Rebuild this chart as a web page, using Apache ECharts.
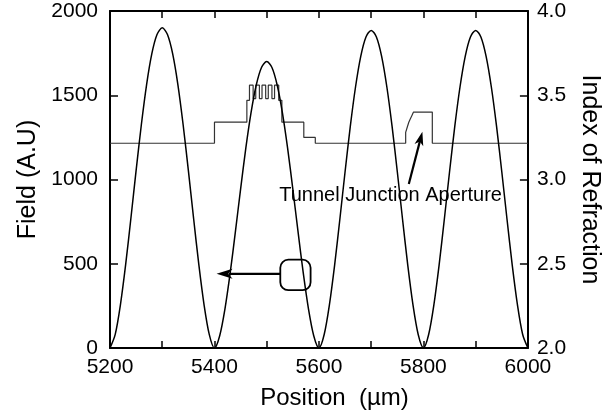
<!DOCTYPE html>
<html><head><meta charset="utf-8">
<script src="https://cdn.jsdelivr.net/npm/echarts@6/dist/echarts.min.js"></script>
<style>html,body{margin:0;padding:0;background:#fff}#c{width:610px;height:415px}</style>
</head><body><div id="c"></div>
<script>
// ---- data ----
const positions = [5200,5210,5220,5230,5240,5250,5260,5270,5280,5290,5300,5310,5320,5330,5340,5350,5360,5370,5380,5390,
  5400,5410,5420,5430,5440,5450,5460,5470,5480,5490,5500,5510,5520,5530,5540,5550,5560,5570,5580,5590,
  5600,5610,5620,5630,5640,5650,5660,5670,5680,5690,5700,5710,5720,5730,5740,5750,5760,5770,5780,5790,
  5800,5810,5820,5830,5840,5850,5860,5870,5880,5890,5900,5910,5920,5930,5940,5950,5960,5970,5980,5990,6000];
const fieldValues = [0,81,258,496,770,1054,1325,1562,1745,1860,1900,1860,1745,1562,1325,1054,770,496,258,81,
  0,73,231,444,689,943,1186,1397,1561,1665,1700,1665,1561,1397,1186,943,689,444,231,73,
  0,80,256,492,764,1046,1315,1549,1731,1846,1885,1846,1731,1549,1315,1046,764,492,256,80,
  0,80,256,492,764,1046,1315,1549,1731,1846,1885,1846,1731,1549,1315,1046,764,492,256,80,0];
const indexPositions = [5200,5400,5400,5462,5462,5467,5467,5474,5474,5479,5479,5486,5486,5491,5491,5498,5498,5503,5503,5510,
  5510,5515,5515,5523,5523,5529,5529,5571,5571,5593,5593,5766,5766,5769,5769,5772,5772,5775,5775,5778,5778,5781,5781,5817,5817,6000];
const indexValues = [3.215,3.215,3.34,3.34,3.47,3.47,3.56,3.56,3.48,3.48,3.56,3.56,3.48,3.48,3.56,3.56,3.48,3.48,3.56,3.56,
  3.48,3.48,3.56,3.56,3.47,3.47,3.34,3.34,3.25,3.25,3.215,3.215,3.28,3.28,3.31,3.31,3.34,3.34,3.36,3.36,3.38,3.38,3.40,3.40,3.215,3.215];
const xTickLabels = ['5200','5400','5600','5800','6000'];
const leftTickLabels = ['0','500','1000','1500','2000'];
const rightTickLabels = ['2.0','2.5','3.0','3.5','4.0'];
const xTitle = 'Position  (µm)';
const leftTitle = 'Field (A.U)';
const rightTitle = 'Index of Refraction';
const noteText = 'Tunnel Junction Aperture';

// annotation anchors (data units: position, field)
const boxA = [5526, 524], boxB = [5584, 343];
const fieldArrowFrom = [5526, 440], fieldArrowTo = [5404, 440];
const tjArrowFrom = [5772, 973], tjArrowTo = [5798, 1284];
const noteAnchor = [5524, 903];

const FONT = '"Liberation Sans", Arial, sans-serif';
const chart = echarts.init(document.getElementById('c'), null, {renderer: 'canvas'});

const fieldData = positions.map((p, i) => [p, fieldValues[i]]);
const indexData = indexPositions.map((p, i) => [p, indexValues[i]]);

const axisLineStyle = {show: true, lineStyle: {color: '#000', width: 2}};
const tickStyle = {show: true, inside: true, length: 7, lineStyle: {color: '#000', width: 1.5}};

chart.setOption({
  animation: false,
  backgroundColor: '#fff',
  grid: {left: 110, right: 81, top: 11, bottom: 67, containLabel: false},
  xAxis: [{
    type: 'value', position: 'bottom', min: 5200, max: 6000, interval: 100,
    axisLine: axisLineStyle, axisTick: tickStyle, splitLine: {show: false},
    axisLabel: {show: true, margin: 9, color: '#000', fontSize: 21, fontFamily: FONT,
      formatter: v => { const s = String(Math.round(v)); return xTickLabels.indexOf(s) >= 0 ? s : ''; }},
    name: xTitle, nameLocation: 'middle', nameGap: 38,
    nameTextStyle: {color: '#000', fontSize: 24, fontFamily: FONT, padding: [0, 0, 0, 31]}
  }, {
    type: 'value', position: 'top', min: 5200, max: 6000, interval: 100,
    axisLine: axisLineStyle, axisTick: tickStyle, splitLine: {show: false},
    axisLabel: {show: false}
  }],
  yAxis: [{
    type: 'value', position: 'left', min: 0, max: 2000, interval: 500,
    axisLine: axisLineStyle, axisTick: Object.assign({}, tickStyle, {length: 8}), splitLine: {show: false},
    axisLabel: {margin: 12, color: '#000', fontSize: 21, fontFamily: FONT,
      formatter: v => leftTickLabels[Math.round(v / 500)]},
    name: leftTitle, nameLocation: 'middle', nameGap: 63, nameRotate: 90,
    nameTextStyle: {color: '#000', fontSize: 25, fontFamily: FONT}
  }, {
    type: 'value', position: 'right', min: 2, max: 4, interval: 0.5,
    axisLine: axisLineStyle, axisTick: Object.assign({}, tickStyle, {length: 8}), splitLine: {show: false},
    axisLabel: {margin: 9, color: '#000', fontSize: 21, fontFamily: FONT,
      formatter: v => rightTickLabels[Math.round((v - 2) / 0.5)]},
    name: rightTitle, nameLocation: 'middle', nameGap: 46, nameRotate: -90,
    nameTextStyle: {color: '#000', fontSize: 25, fontFamily: FONT}
  }],
  series: [{
    type: 'line', xAxisIndex: 0, yAxisIndex: 0, data: fieldData, showSymbol: false,
    smooth: 0.3,
    lineStyle: {color: '#000', width: 1.5}, z: 3
  }, {
    type: 'line', xAxisIndex: 0, yAxisIndex: 1, data: indexData, showSymbol: false,
    lineStyle: {color: '#333', width: 1.2}, z: 2
  }]
});

function px(d) { return chart.convertToPixel({xAxisIndex: 0, yAxisIndex: 0}, d); }
function arrowHead(tip, from, L, W) {
  const dx = tip[0] - from[0], dy = tip[1] - from[1];
  const n = Math.hypot(dx, dy), ux = dx / n, uy = dy / n, vx = -uy, vy = ux;
  return [tip,
    [tip[0] - L * ux + W * vx, tip[1] - L * uy + W * vy],
    [tip[0] - 0.72 * L * ux, tip[1] - 0.72 * L * uy],
    [tip[0] - L * ux - W * vx, tip[1] - L * uy - W * vy]];
}
const a = px(boxA), b = px(boxB);
const f1 = px(fieldArrowFrom), f2 = px(fieldArrowTo);
const t1 = px(tjArrowFrom), t2 = px(tjArrowTo);
const na = px(noteAnchor);
const fTail = [f2[0] + 12, f2[1]];
chart.setOption({
  graphic: [
    {type: 'rect', shape: {x: Math.min(a[0], b[0]), y: Math.min(a[1], b[1]), width: Math.abs(b[0]-a[0]), height: Math.abs(b[1]-a[1]), r: 8},
      style: {fill: 'none', stroke: '#000', lineWidth: 1.8}, z: 10},
    {type: 'line', shape: {x1: f1[0], y1: f1[1], x2: fTail[0], y2: fTail[1]}, style: {stroke: '#000', lineWidth: 2.2}, z: 10},
    {type: 'polygon', shape: {points: arrowHead(f2, f1, 16, 5)}, style: {fill: '#000'}, z: 10},
    {type: 'line', shape: {x1: t1[0], y1: t1[1], x2: t2[0] - (t2[0]-t1[0]) * 0.1, y2: t2[1] - (t2[1]-t1[1]) * 0.1}, style: {stroke: '#000', lineWidth: 2.2}, z: 10},
    {type: 'polygon', shape: {points: arrowHead(t2, t1, 14, 4.5)}, style: {fill: '#000'}, z: 10},
    {type: 'text', x: na[0], y: na[1], style: {text: noteText, fill: '#000', font: '20px ' + FONT, align: 'left', verticalAlign: 'middle'}, z: 11}
  ]
});
</script></body></html>
